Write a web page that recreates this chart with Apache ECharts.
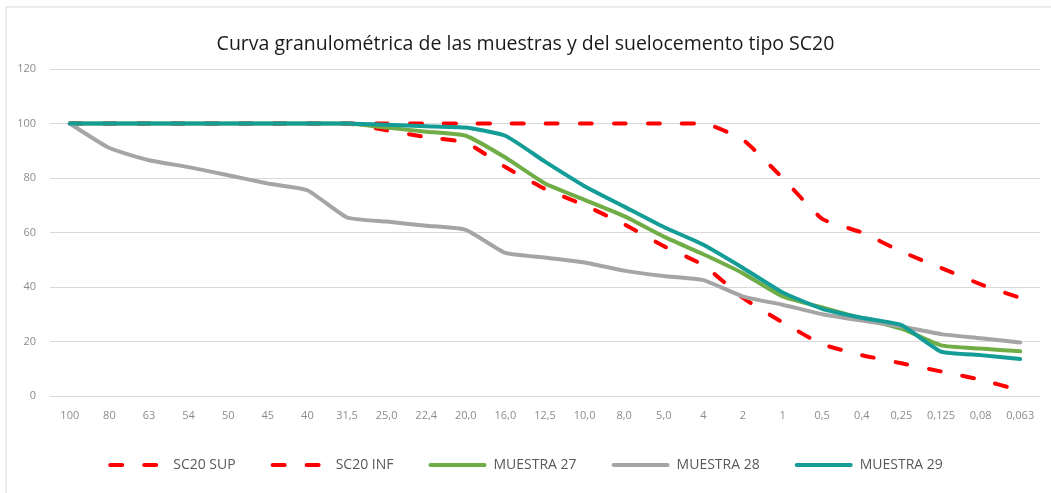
<!DOCTYPE html>
<html>
<head>
<meta charset="utf-8">
<script src="https://cdn.jsdelivr.net/npm/echarts@6/dist/echarts.min.js"></script>
<style>
  html, body { margin: 0; padding: 0; background: #fff; }
  #chart { width: 1051px; height: 493px; }
</style>
</head>
<body>
<div id="chart"></div>
<script>
// tamices (mm)
const tamices = ['100', '80', '63', '54', '50', '45', '40', '31,5', '25,0', '22,4', '20,0', '16,0', '12,5',
  '10,0', '8,0', '5,0', '4', '2', '1', '0,5', '0,4', '0,25', '0,125', '0,08', '0,063'];

// huso SC20
const sc20Sup = [100, 100, 100, 100, 100, 100, 100, 100, 100, 100, 100, 100, 100,
  100, 100, 100, 100, 94, 80, 65, 60, 53, 47, 41, 36];
const sc20Inf = [100, 100, 100, 100, 100, 100, 100, 100, 97.5, 95, 93, 84, 76,
  70, 63, 55, 48, 36, 27, 19, 15, 12, 9, 6, 2];

// muestras
const muestra27 = [100, 100, 100, 100, 100, 100, 100, 100, 98.5, 97, 95.5, 87.5, 78,
  72, 66, 58.5, 52, 45, 36.5, 32.5, 28.5, 24.7, 18.6, 17.4, 16.4];
const muestra28 = [100, 91, 86.5, 84, 81, 78, 75.5, 65.5, 64, 62.5, 61, 52.5, 50.8,
  49, 46, 44, 42.5, 36.5, 33.5, 30, 27.7, 25.5, 22.7, 21.2, 19.6];
const muestra29 = [100, 100, 100, 100, 100, 100, 100, 100, 99.5, 99, 98.5, 95.5, 86,
  77, 69.5, 62, 55.5, 47, 38, 32, 28.7, 26, 16.3, 15, 13.6];

const fuente = "'Open Sans', 'Liberation Sans', sans-serif";

const chart = echarts.init(document.getElementById('chart'));

const linea = (name, data, color, dashed) => ({
  name,
  type: 'line',
  data,
  symbol: 'none',
  smooth: 0.15,
  lineStyle: dashed
    ? { color, width: 4, type: [12, 22], cap: 'round' }
    : { color, width: 4, cap: 'round' },
  itemStyle: { color },
  emphasis: { disabled: true }
});

chart.setOption({
  animation: false,
  backgroundColor: '#fff',
  graphic: [{
    type: 'rect',
    shape: { x: 6, y: 7, width: 1100, height: 600 },
    style: { fill: 'none', stroke: '#d9d9d9', lineWidth: 1 },
    silent: true
  }],
  title: {
    text: 'Curva granulométrica de las muestras y del suelocemento tipo SC20',
    left: 'center',
    top: 29,
    textStyle: { fontFamily: fuente, fontSize: 19.5, fontWeight: 'normal', color: '#1a1a1a' }
  },
  legend: {
    bottom: 16,
    left: 'center',
    itemWidth: 54,
    itemHeight: 4,
    itemGap: 35,
    lineStyle: { width: 4, cap: 'round' },
    itemStyle: { opacity: 0 },
    textStyle: { fontFamily: fuente, fontSize: 14, color: '#595959', padding: [0, 0, 0, 4] },
    data: ['SC20 SUP', 'SC20 INF', 'MUESTRA 27', 'MUESTRA 28', 'MUESTRA 29']
  },
  grid: { left: 50, right: 11, top: 69, bottom: 97 },
  xAxis: {
    type: 'category',
    data: tamices,
    boundaryGap: true,
    axisLine: { lineStyle: { color: '#d9d9d9', width: 1 } },
    axisTick: { show: false },
    axisLabel: { interval: 0, fontFamily: fuente, fontSize: 11, color: '#8c8c8c', margin: 14 }
  },
  yAxis: {
    type: 'value',
    min: 0,
    max: 120,
    interval: 20,
    axisLine: { show: false },
    axisTick: { show: false },
    splitLine: { lineStyle: { color: '#d9d9d9', width: 1 } },
    axisLabel: { fontFamily: fuente, fontSize: 11, color: '#8c8c8c', margin: 14 }
  },
  series: [
    linea('SC20 SUP', sc20Sup, '#ff0000', true),
    linea('SC20 INF', sc20Inf, '#ff0000', true),
    linea('MUESTRA 27', muestra27, '#70ad47', false),
    linea('MUESTRA 28', muestra28, '#a5a5a5', false),
    linea('MUESTRA 29', muestra29, '#149c96', false)
  ]
});
</script>
</body>
</html>
